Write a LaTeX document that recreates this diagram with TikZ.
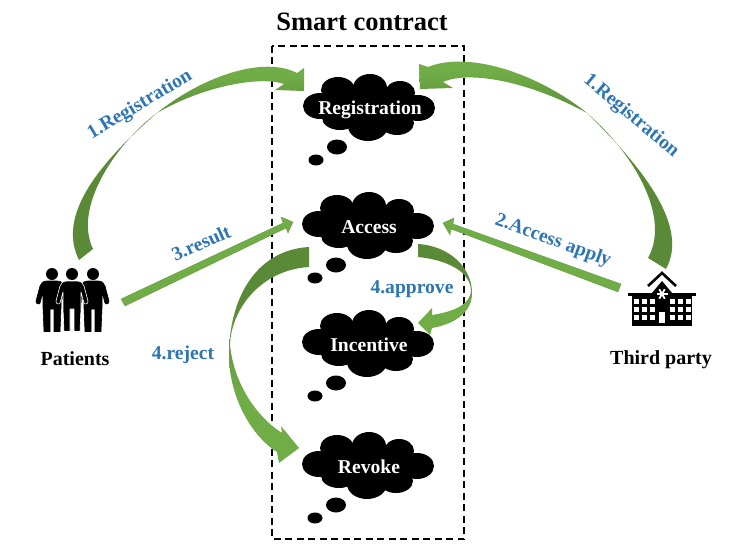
\documentclass[tikz,border=0pt]{standalone}
\usepackage{fontspec}
\setmainfont{Liberation Serif}
\definecolor{gdark}{HTML}{5A8A38}
\definecolor{glight}{HTML}{70AD47}
\definecolor{lblue}{HTML}{2E75B6}
\pgfdeclareverticalshading{longup}{100bp}{color(0bp)=(gdark); color(60bp)=(gdark); color(70bp)=(glight); color(100bp)=(glight)}
\pgfdeclareverticalshading{rejectdown}{100bp}{color(0bp)=(glight); color(40bp)=(glight); color(62bp)=(gdark); color(100bp)=(gdark)}
\pgfdeclareverticalshading{approvedown}{100bp}{color(0bp)=(glight); color(41bp)=(glight); color(55bp)=(gdark); color(100bp)=(gdark)}
\tikzset{
  x=1pt,y=-1pt,
  title/.style={font=\fontsize{26.5}{30}\bfseries\selectfont,text=black,inner sep=0pt},
  actor/.style={font=\fontsize{20}{23}\bfseries\selectfont,text=black,inner sep=0pt},
  lab/.style={font=\fontsize{19.6}{23}\bfseries\selectfont,text=lblue,inner sep=0pt},
  cloudtext/.style={font=\fontsize{19.6}{22}\bfseries\selectfont,text=white,inner sep=0pt},
  flatarrow/.style={fill=glight,draw=glight!85!black,line width=.3pt,line join=miter},
  pics/thought/.style={code={
    \fill (-50,-2) ellipse [x radius=17pt,y radius=13pt];
    \fill (-32,-18) ellipse [x radius=17pt,y radius=13pt];
    \fill (0,-20) ellipse [x radius=17pt,y radius=14pt];
    \fill (30,-15) ellipse [x radius=15pt,y radius=12pt];
    \fill (48,0) ellipse [x radius=17pt,y radius=13pt];
    \fill (27,15) ellipse [x radius=17pt,y radius=12pt];
    \fill (-2,18) ellipse [x radius=20pt,y radius=15pt];
    \fill (-30,10) ellipse [x radius=18pt,y radius=12pt];
    \fill (0,0) ellipse [x radius=38pt,y radius=20pt];
    \fill (-33,39) ellipse [x radius=10pt,y radius=7.5pt];
    \fill (-54,52) ellipse [x radius=7.5pt,y radius=5.5pt];
  }},
  pics/person/.style={code={
    \fill (0,0) circle [radius=6pt];
    \path[fill=black,draw=#1,line width=.6pt,line join=round]
      (-5,7) -- (5,7) .. controls (9,7) and (11,9) .. (12,12)
      -- (16,27) .. controls (16.5,30) and (12.5,31) .. (12,29)
      -- (9,18) -- (9,34) -- (8,57.5) -- (2,57.5) -- (2,35) -- (-2,35) -- (-2,57.5) -- (-8,57.5) -- (-9,34) -- (-9,18)
      -- (-12,29) .. controls (-12.5,31) and (-16.5,30) .. (-16,27)
      -- (-12,12) .. controls (-11,9) and (-9,7) .. (-5,7) -- cycle;
  }},
}
\begin{document}
\begin{tikzpicture}
\useasboundingbox (0,0) rectangle (741,559);
\fill[white] (0,0) rectangle (741,559);

% contract frame
\draw[line width=1.4pt,dash pattern=on 7pt off 4.5pt] (272,46) rectangle (464,539);

% clouds
\pic at (370,108) {thought};
\pic at (369,226) {thought};
\pic at (369,344) {thought};
\pic at (369,466) {thought};

% curved arrows
\shade[shading=longup]
  (79,260) .. controls (60,222) and (85,175) .. (157,113) .. controls (200,78) and (262,55) .. (297,73)
  -- (304,68) -- (304,91) -- (275,90) -- (284,84)
  .. controls (262,76) and (205,85) .. (157,113) .. controls (120,140) and (72,205) .. (93,249)
  -- cycle;
\shade[shading=longup]
  (666,269) .. controls (690,225) and (640,165) .. (587,113) .. controls (540,75) and (470,50) .. (428,67)
  -- (419,64) -- (420,89) -- (453,88) -- (443,82)
  .. controls (470,70) and (530,82) .. (587,113) .. controls (630,150) and (672,215) .. (648,258)
  -- cycle;
\shade[shading=rejectdown]
  (309,247) .. controls (255,250) and (229,300) .. (229,355) .. controls (229,395) and (250,435) .. (277,452)
  -- (279,463) -- (299,448) -- (281,426) -- (282,433)
  .. controls (258,418) and (234,385) .. (230,345) .. controls (231,310) and (260,270) .. (309,267)
  -- cycle;
\shade[shading=approvedown]
  (418,244) .. controls (450,246) and (472,268) .. (472,293) .. controls (472,315) and (450,325) .. (432,328)
  -- (430,335) -- (418,323) -- (432,308) -- (432,315)
  .. controls (452,312) and (471,305) .. (471,290) .. controls (470,272) and (448,260) .. (418,257)
  -- cycle;

% straight arrows
\path[flatarrow] (121,299) -- (283,223) -- (281,217) -- (293,222) -- (288,233) -- (286,228) -- (125,306) -- cycle;
\path[flatarrow] (621,284) -- (453,224) -- (454,218) -- (443,223) -- (450,235) -- (451,229) -- (618,292) -- cycle;

% patients
\pic at (52,274) {person=black};
\pic at (93,274) {person=black};
\pic at (72,274) {person=white};

% hospital
\draw[line width=2.6pt,miter limit=10] (648,286) -- (662,273) -- (676,286);
\fill (652,293) -- (662,281) -- (672,293) -- (672,300) -- (652,300) -- cycle;
\fill (628,292.5) rectangle (696,295.5);
\fill (632,295) rectangle (692,326);
\foreach \wx in {633.5,641.5,649.5,670,678,686}
  \foreach \wy in {299,307,315}
    \fill[white] (\wx,\wy) rectangle ++(5,5);
\fill[white] (658.5,312) rectangle (665,323);
\foreach \ang in {0,60,120}
  \draw[white,line width=1.8pt] (662,294) ++(\ang:5.5pt) -- ++(\ang+180:11pt);

% texts
\node[title] (ttl) at (362,22) {Smart contract};
\node[actor] (pat) at (75,359) {Patients};
\node[actor] (tp) at (661,360) {Third party};
\node[cloudtext] (c1) at (370,110) {Registration};
\node[cloudtext] (c2) at (369,227) {Access};
\node[cloudtext] (c3) at (369,345) {Incentive};
\node[cloudtext] (c4) at (369,467) {Revoke};
\node[lab,rotate=31] (l1) at (140,105) {1.Registration};
\node[lab,rotate=-40] (l2) at (631,116) {1.Registration};
\node[lab,rotate=24] (l3) at (201,243) {3.result};
\node[lab,rotate=-20] (l4) at (553,241) {2.Access apply};
\node[lab] (l5) at (412,289) {4.approve};
\node[lab] (l6) at (183,355) {4.reject};
\end{tikzpicture}
\end{document}
